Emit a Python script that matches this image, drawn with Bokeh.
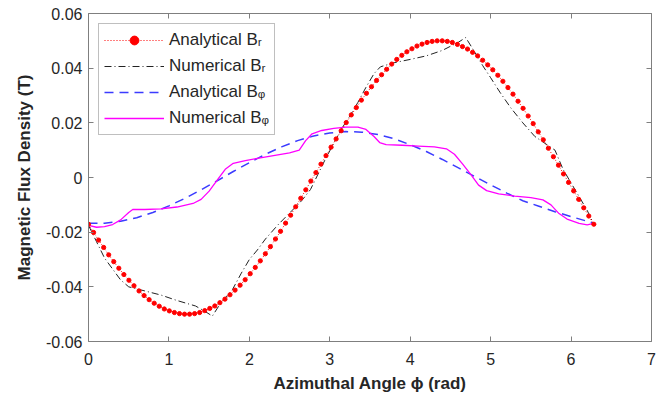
import numpy as np
from bokeh.plotting import figure
from bokeh.models import LinearAxis, FixedTicker, CustomJSTickFormatter, Range1d, Legend, LegendItem
from bokeh.embed import file_html
from bokeh.resources import INLINE

# Analytical B_r (sampled at 101 uniform angles over 0..2pi)
phi_ar = np.linspace(0, 2 * np.pi, 101)
br_analytical = [
    -0.0171, -0.0201, -0.0229, -0.0256, -0.0283, -0.0308, -0.0332, -0.0355, -0.0376, -0.0396,
    -0.0415, -0.0432, -0.0447, -0.0460, -0.0471, -0.0481, -0.0488, -0.0494, -0.0498, -0.0500,
    -0.0500, -0.0498, -0.0494, -0.0487, -0.0479, -0.0470, -0.0458, -0.0445, -0.0429, -0.0412,
    -0.0394, -0.0374, -0.0352, -0.0329, -0.0305, -0.0279, -0.0253, -0.0225, -0.0197, -0.0167,
    -0.0138, -0.0107, -0.0076, -0.0045, -0.0013, 0.0018, 0.0049, 0.0080, 0.0111, 0.0141,
    0.0171, 0.0201, 0.0229, 0.0256, 0.0283, 0.0308, 0.0332, 0.0355, 0.0376, 0.0396,
    0.0415, 0.0432, 0.0447, 0.0460, 0.0471, 0.0481, 0.0488, 0.0494, 0.0498, 0.0500,
    0.0500, 0.0498, 0.0494, 0.0487, 0.0479, 0.0470, 0.0458, 0.0445, 0.0429, 0.0412,
    0.0394, 0.0374, 0.0352, 0.0329, 0.0305, 0.0279, 0.0253, 0.0225, 0.0197, 0.0167,
    0.0138, 0.0107, 0.0076, 0.0045, 0.0013, -0.0018, -0.0049, -0.0080, -0.0111, -0.0141,
    -0.0171,
]

# Numerical B_r
phi_nr = [0.00, 0.10, 0.20, 0.30, 0.40, 0.50, 0.70, 0.90, 1.10, 1.33, 1.45, 1.54, 1.62, 1.70,
          1.79, 1.90, 2.00, 2.10, 2.20, 2.35, 2.50, 2.65, 2.76, 2.85, 2.95, 3.05, 3.15, 3.25,
          3.35, 3.45, 3.55, 3.63, 3.80, 4.00, 4.20, 4.40, 4.60, 4.69, 4.80, 4.90, 5.00, 5.12,
          5.25, 5.40, 5.55, 5.70, 5.80, 5.90, 6.00, 6.10, 6.20, 6.28]
br_numerical = [-0.0175, -0.0235, -0.0295, -0.0335, -0.0375, -0.0400, -0.0415, -0.0430, -0.0450,
                -0.0470, -0.0490, -0.0507, -0.0470, -0.0440, -0.0410, -0.0350, -0.0300, -0.0265,
                -0.0225, -0.0175, -0.0130, -0.0085, -0.0044, 0.0010, 0.0070, 0.0125, 0.0180,
                0.0225, 0.0275, 0.0330, 0.0380, 0.0405, 0.0420, 0.0432, 0.0445, 0.0465, 0.0495,
                0.0512, 0.0460, 0.0410, 0.0365, 0.0310, 0.0255, 0.0200, 0.0150, 0.0120, 0.0100,
                0.0030, -0.0020, -0.0070, -0.0120, -0.0170]

# Analytical B_phi
phi_ap = [0.0, 0.2, 0.4, 0.6, 0.8, 1.0, 1.2, 1.4, 1.6, 1.8, 2.0, 2.2, 2.4, 2.6, 2.8, 3.0, 3.2,
          3.4, 3.6, 3.8, 4.0, 4.2, 4.4, 4.6, 4.8, 5.0, 5.2, 5.4, 5.6, 5.8, 6.0, 6.2, 6.2832]
bphi_analytical = [-0.0167, -0.0167, -0.0160, -0.0147, -0.0128, -0.0104, -0.0076, -0.0045,
                   -0.0012, 0.0022, 0.0054, 0.0085, 0.0112, 0.0135, 0.0152, 0.0163, 0.0168,
                   0.0166, 0.0157, 0.0142, 0.0120, 0.0095, 0.0066, 0.0035, 0.0004, -0.0027,
                   -0.0057, -0.0085, -0.0105, -0.0125, -0.0143, -0.0160, -0.0167]

# Numerical B_phi
phi_np = [0.00, 0.10, 0.20, 0.30, 0.40, 0.50, 0.55, 0.70, 0.90, 1.10, 1.30, 1.40, 1.50, 1.60,
          1.70, 1.80, 1.95, 2.10, 2.30, 2.50, 2.62, 2.70, 2.78, 2.90, 3.05, 3.20, 3.35, 3.45,
          3.55, 3.62, 3.70, 3.90, 4.10, 4.30, 4.45, 4.55, 4.65, 4.75, 4.85, 4.95, 5.10, 5.30,
          5.50, 5.65, 5.75, 5.85, 5.95, 6.10, 6.20, 6.28]
bphi_numerical = [-0.0175, -0.0182, -0.0180, -0.0172, -0.0155, -0.0128, -0.0117, -0.0117,
                  -0.0115, -0.0108, -0.0095, -0.0080, -0.0050, -0.0010, 0.0030, 0.0052, 0.0062,
                  0.0070, 0.0080, 0.0090, 0.0100, 0.0135, 0.0160, 0.0172, 0.0180, 0.0184,
                  0.0184, 0.0176, 0.0150, 0.0128, 0.0120, 0.0118, 0.0115, 0.0112, 0.0105,
                  0.0085, 0.0050, 0.0012, -0.0028, -0.0048, -0.0060, -0.0068, -0.0074, -0.0082,
                  -0.0100, -0.0132, -0.0152, -0.0168, -0.0173, -0.0168]

x_ticks = [0, 1, 2, 3, 4, 5, 6, 7]
y_ticks = [-0.06, -0.04, -0.02, 0.0, 0.02, 0.04, 0.06]

FONT = "Liberation Sans"
AX_COL = "#7f7f7f"
TXT_COL = "#262626"

p = figure(width=663, height=395, output_backend="svg", toolbar_location=None,
           x_range=Range1d(0, 7), y_range=Range1d(-0.06, 0.06),
           min_border_left=88, min_border_right=12, min_border_top=13, min_border_bottom=53)
p.outline_line_color = None
p.xgrid.grid_line_color = None
p.ygrid.grid_line_color = None
p.background_fill_color = "white"

fmt = CustomJSTickFormatter(code="return Math.abs(tick) < 1e-9 ? '0' : tick.toFixed(2);")
blank = CustomJSTickFormatter(code="return '';")

p.xaxis.ticker = FixedTicker(ticks=x_ticks)
p.yaxis.ticker = FixedTicker(ticks=y_ticks)
p.yaxis.formatter = fmt
for ax in (p.xaxis[0], p.yaxis[0]):
    ax.major_tick_in = 5
    ax.major_tick_out = 0
    ax.minor_tick_line_color = None
    ax.axis_line_color = AX_COL
    ax.major_tick_line_color = AX_COL
    ax.major_label_text_font = FONT
    ax.major_label_text_font_size = "16px"
    ax.major_label_text_color = TXT_COL
    ax.axis_label_text_font = FONT
    ax.axis_label_text_font_size = "17px"
    ax.axis_label_text_font_style = "bold"
    ax.axis_label_text_color = TXT_COL
p.xaxis.axis_label = "Azimuthal Angle ϕ (rad)"
p.yaxis.axis_label = "Magnetic Flux Density (T)"
p.xaxis.major_label_standoff = 11
p.xaxis.axis_label_standoff = 6
p.yaxis.major_label_standoff = 6
p.yaxis.axis_label_standoff = 9

for loc, ticks in (("above", x_ticks), ("right", y_ticks)):
    ax = LinearAxis(ticker=FixedTicker(ticks=ticks), formatter=blank,
                    major_label_standoff=0, major_tick_in=5, major_tick_out=0,
                    minor_tick_line_color=None, axis_line_color=AX_COL,
                    major_tick_line_color=AX_COL)
    p.add_layout(ax, loc)

r_nr = p.line(phi_nr, br_numerical, line_color="#222222", line_width=1, line_dash="7 3 1 3")
r_ap = p.line(phi_ap, bphi_analytical, line_color="#3b3bff", line_width=1.5, line_dash="9 6")
r_np = p.line(phi_np, bphi_numerical, line_color="#ff00ff", line_width=1.3)
r_ar_l = p.line(phi_ar, br_analytical, line_color="red", line_width=1, line_dash="1 2")
r_ar_s = p.scatter(phi_ar, br_analytical, size=4.2, fill_color="red", line_color="red", marker="circle")

legend = Legend(items=[
    LegendItem(label="Analytical Bᵣ", renderers=[r_ar_l, r_ar_s]),
    LegendItem(label="Numerical Bᵣ", renderers=[r_nr]),
    LegendItem(label="Analytical Bᵩ", renderers=[r_ap]),
    LegendItem(label="Numerical Bᵩ", renderers=[r_np]),
])
legend.location = "top_left"
legend.margin = 10
legend.padding = 5
legend.spacing = 4
legend.label_height = 22
legend.glyph_height = 22
legend.glyph_width = 60
legend.label_standoff = 5
legend.label_text_font = FONT
legend.label_text_font_size = "17px"
legend.label_text_color = TXT_COL
legend.border_line_color = AX_COL
legend.border_line_width = 1.5
legend.background_fill_alpha = 1
p.add_layout(legend, "center")

open("out.html", "w").write(file_html(p, INLINE))
